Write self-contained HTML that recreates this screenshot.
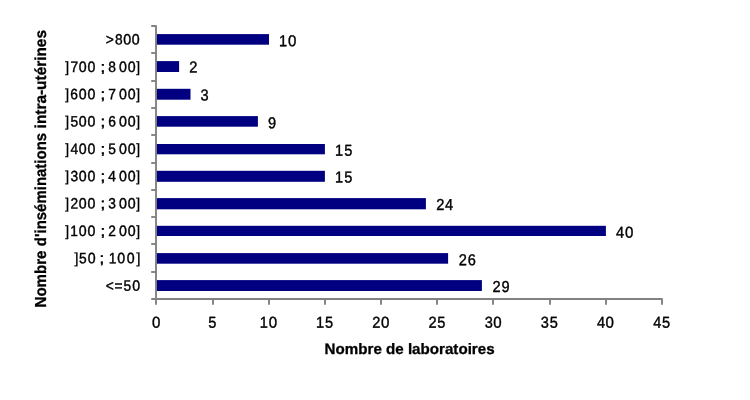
<!DOCTYPE html>
<html><head><meta charset="utf-8"><title>Chart</title>
<style>
html,body{margin:0;padding:0;background:#fff;}
body{width:750px;height:400px;overflow:hidden;font-family:"Liberation Sans",sans-serif;}
svg{display:block;will-change:transform;}
text{font-family:"Liberation Sans",sans-serif;fill:#000;text-rendering:geometricPrecision;}
g text{stroke:#000;stroke-width:0.4px;}
.ttl{font-size:15.1px;font-weight:bold;stroke:#000;stroke-width:0.3px;}
</style></head><body>
<svg width="750" height="400" viewBox="0 0 750 400">
<rect x="0" y="0" width="750" height="400" fill="#ffffff"/>
<rect x="156.00" y="34.10" width="113.00" height="10.60" fill="#000080"/>
<g>
<text transform="translate(109.70,44.57) rotate(0.05) scale(0.92,1)" x="-4.37" y="0" font-size="14.95">&gt;</text>
<text transform="translate(118.70,44.57) rotate(0.05) scale(0.92,1)" x="-4.16" y="0" font-size="14.95">8</text>
<text transform="translate(127.10,44.57) rotate(0.05) scale(0.95,1)" x="-4.16" y="0" font-size="14.95">0</text>
<text transform="translate(135.80,44.57) rotate(0.05) scale(0.95,1)" x="-4.16" y="0" font-size="14.95">0</text>
</g>
<g>
<text transform="translate(283.20,46.20) rotate(0.05) scale(0.92,1)" x="-4.62" y="0" font-size="15.85">1</text>
<text transform="translate(292.20,46.20) rotate(0.05) scale(0.95,1)" x="-4.41" y="0" font-size="15.85">0</text>
</g>
<rect x="156.00" y="61.10" width="23.10" height="10.90" fill="#000080"/>
<g>
<text transform="translate(66.80,71.91) rotate(0.05) scale(0.92,1)" x="-1.61" y="0" font-size="14.95">]</text>
<text transform="translate(74.20,71.91) rotate(0.05) scale(0.92,1)" x="-4.16" y="0" font-size="14.95">7</text>
<text transform="translate(82.80,71.91) rotate(0.05) scale(0.95,1)" x="-4.16" y="0" font-size="14.95">0</text>
<text transform="translate(91.50,71.91) rotate(0.05) scale(0.95,1)" x="-4.16" y="0" font-size="14.95">0</text>
<text transform="translate(102.80,71.91) rotate(0.05) scale(1.25,1)" x="-2.08" y="0" font-size="14.95">;</text>
<text transform="translate(112.00,71.91) rotate(0.05) scale(0.92,1)" x="-4.16" y="0" font-size="14.95">8</text>
<text transform="translate(123.00,71.91) rotate(0.05) scale(0.95,1)" x="-4.16" y="0" font-size="14.95">0</text>
<text transform="translate(131.70,71.91) rotate(0.05) scale(0.95,1)" x="-4.16" y="0" font-size="14.95">0</text>
<text transform="translate(137.70,71.91) rotate(0.05) scale(0.92,1)" x="-1.61" y="0" font-size="14.95">]</text>
</g>
<g>
<text transform="translate(193.38,72.60) rotate(0.05) scale(0.92,1)" x="-4.41" y="0" font-size="15.85">2</text>
</g>
<rect x="156.00" y="88.80" width="34.50" height="10.90" fill="#000080"/>
<g>
<text transform="translate(66.80,99.25) rotate(0.05) scale(0.92,1)" x="-1.61" y="0" font-size="14.95">]</text>
<text transform="translate(74.20,99.25) rotate(0.05) scale(0.92,1)" x="-4.21" y="0" font-size="14.95">6</text>
<text transform="translate(82.80,99.25) rotate(0.05) scale(0.95,1)" x="-4.16" y="0" font-size="14.95">0</text>
<text transform="translate(91.50,99.25) rotate(0.05) scale(0.95,1)" x="-4.16" y="0" font-size="14.95">0</text>
<text transform="translate(102.80,99.25) rotate(0.05) scale(1.25,1)" x="-2.08" y="0" font-size="14.95">;</text>
<text transform="translate(112.00,99.25) rotate(0.05) scale(0.92,1)" x="-4.16" y="0" font-size="14.95">7</text>
<text transform="translate(123.00,99.25) rotate(0.05) scale(0.95,1)" x="-4.16" y="0" font-size="14.95">0</text>
<text transform="translate(131.70,99.25) rotate(0.05) scale(0.95,1)" x="-4.16" y="0" font-size="14.95">0</text>
<text transform="translate(137.70,99.25) rotate(0.05) scale(0.92,1)" x="-1.61" y="0" font-size="14.95">]</text>
</g>
<g>
<text transform="translate(204.52,100.60) rotate(0.05) scale(0.92,1)" x="-4.36" y="0" font-size="15.85">3</text>
</g>
<rect x="156.00" y="116.10" width="101.90" height="10.60" fill="#000080"/>
<g>
<text transform="translate(66.80,126.59) rotate(0.05) scale(0.92,1)" x="-1.61" y="0" font-size="14.95">]</text>
<text transform="translate(74.20,126.59) rotate(0.05) scale(0.92,1)" x="-4.14" y="0" font-size="14.95">5</text>
<text transform="translate(82.80,126.59) rotate(0.05) scale(0.95,1)" x="-4.16" y="0" font-size="14.95">0</text>
<text transform="translate(91.50,126.59) rotate(0.05) scale(0.95,1)" x="-4.16" y="0" font-size="14.95">0</text>
<text transform="translate(102.80,126.59) rotate(0.05) scale(1.25,1)" x="-2.08" y="0" font-size="14.95">;</text>
<text transform="translate(112.00,126.59) rotate(0.05) scale(0.92,1)" x="-4.21" y="0" font-size="14.95">6</text>
<text transform="translate(123.00,126.59) rotate(0.05) scale(0.95,1)" x="-4.16" y="0" font-size="14.95">0</text>
<text transform="translate(131.70,126.59) rotate(0.05) scale(0.95,1)" x="-4.16" y="0" font-size="14.95">0</text>
<text transform="translate(137.70,126.59) rotate(0.05) scale(0.92,1)" x="-1.61" y="0" font-size="14.95">]</text>
</g>
<g>
<text transform="translate(271.96,128.20) rotate(0.05) scale(0.92,1)" x="-4.41" y="0" font-size="15.85">9</text>
</g>
<rect x="156.00" y="144.00" width="168.90" height="10.30" fill="#000080"/>
<g>
<text transform="translate(66.80,153.93) rotate(0.05) scale(0.92,1)" x="-1.61" y="0" font-size="14.95">]</text>
<text transform="translate(74.20,153.93) rotate(0.05) scale(0.92,1)" x="-4.11" y="0" font-size="14.95">4</text>
<text transform="translate(82.80,153.93) rotate(0.05) scale(0.95,1)" x="-4.16" y="0" font-size="14.95">0</text>
<text transform="translate(91.50,153.93) rotate(0.05) scale(0.95,1)" x="-4.16" y="0" font-size="14.95">0</text>
<text transform="translate(102.80,153.93) rotate(0.05) scale(1.25,1)" x="-2.08" y="0" font-size="14.95">;</text>
<text transform="translate(112.00,153.93) rotate(0.05) scale(0.92,1)" x="-4.14" y="0" font-size="14.95">5</text>
<text transform="translate(123.00,153.93) rotate(0.05) scale(0.95,1)" x="-4.16" y="0" font-size="14.95">0</text>
<text transform="translate(131.70,153.93) rotate(0.05) scale(0.95,1)" x="-4.16" y="0" font-size="14.95">0</text>
<text transform="translate(137.70,153.93) rotate(0.05) scale(0.92,1)" x="-1.61" y="0" font-size="14.95">]</text>
</g>
<g>
<text transform="translate(339.25,155.70) rotate(0.05) scale(0.92,1)" x="-4.62" y="0" font-size="15.85">1</text>
<text transform="translate(348.40,155.70) rotate(0.05) scale(0.92,1)" x="-4.39" y="0" font-size="15.85">5</text>
</g>
<rect x="156.00" y="170.80" width="168.90" height="11.00" fill="#000080"/>
<g>
<text transform="translate(66.80,181.27) rotate(0.05) scale(0.92,1)" x="-1.61" y="0" font-size="14.95">]</text>
<text transform="translate(74.20,181.27) rotate(0.05) scale(0.92,1)" x="-4.11" y="0" font-size="14.95">3</text>
<text transform="translate(82.80,181.27) rotate(0.05) scale(0.95,1)" x="-4.16" y="0" font-size="14.95">0</text>
<text transform="translate(91.50,181.27) rotate(0.05) scale(0.95,1)" x="-4.16" y="0" font-size="14.95">0</text>
<text transform="translate(102.80,181.27) rotate(0.05) scale(1.25,1)" x="-2.08" y="0" font-size="14.95">;</text>
<text transform="translate(112.00,181.27) rotate(0.05) scale(0.92,1)" x="-4.11" y="0" font-size="14.95">4</text>
<text transform="translate(123.00,181.27) rotate(0.05) scale(0.95,1)" x="-4.16" y="0" font-size="14.95">0</text>
<text transform="translate(131.70,181.27) rotate(0.05) scale(0.95,1)" x="-4.16" y="0" font-size="14.95">0</text>
<text transform="translate(137.70,181.27) rotate(0.05) scale(0.92,1)" x="-1.61" y="0" font-size="14.95">]</text>
</g>
<g>
<text transform="translate(339.25,182.50) rotate(0.05) scale(0.92,1)" x="-4.62" y="0" font-size="15.85">1</text>
<text transform="translate(348.40,182.50) rotate(0.05) scale(0.92,1)" x="-4.39" y="0" font-size="15.85">5</text>
</g>
<rect x="156.00" y="198.10" width="269.90" height="11.20" fill="#000080"/>
<g>
<text transform="translate(66.80,208.61) rotate(0.05) scale(0.92,1)" x="-1.61" y="0" font-size="14.95">]</text>
<text transform="translate(74.20,208.61) rotate(0.05) scale(0.92,1)" x="-4.16" y="0" font-size="14.95">2</text>
<text transform="translate(82.80,208.61) rotate(0.05) scale(0.95,1)" x="-4.16" y="0" font-size="14.95">0</text>
<text transform="translate(91.50,208.61) rotate(0.05) scale(0.95,1)" x="-4.16" y="0" font-size="14.95">0</text>
<text transform="translate(102.80,208.61) rotate(0.05) scale(1.25,1)" x="-2.08" y="0" font-size="14.95">;</text>
<text transform="translate(112.00,208.61) rotate(0.05) scale(0.92,1)" x="-4.11" y="0" font-size="14.95">3</text>
<text transform="translate(123.00,208.61) rotate(0.05) scale(0.95,1)" x="-4.16" y="0" font-size="14.95">0</text>
<text transform="translate(131.70,208.61) rotate(0.05) scale(0.95,1)" x="-4.16" y="0" font-size="14.95">0</text>
<text transform="translate(137.70,208.61) rotate(0.05) scale(0.92,1)" x="-1.61" y="0" font-size="14.95">]</text>
</g>
<g>
<text transform="translate(440.36,209.90) rotate(0.05) scale(0.92,1)" x="-4.41" y="0" font-size="15.85">2</text>
<text transform="translate(449.06,209.90) rotate(0.05) scale(0.92,1)" x="-4.36" y="0" font-size="15.85">4</text>
</g>
<rect x="156.00" y="225.80" width="449.90" height="10.20" fill="#000080"/>
<g>
<text transform="translate(66.80,235.95) rotate(0.05) scale(0.92,1)" x="-1.61" y="0" font-size="14.95">]</text>
<text transform="translate(74.20,235.95) rotate(0.05) scale(0.92,1)" x="-4.36" y="0" font-size="14.95">1</text>
<text transform="translate(82.80,235.95) rotate(0.05) scale(0.95,1)" x="-4.16" y="0" font-size="14.95">0</text>
<text transform="translate(91.50,235.95) rotate(0.05) scale(0.95,1)" x="-4.16" y="0" font-size="14.95">0</text>
<text transform="translate(102.80,235.95) rotate(0.05) scale(1.25,1)" x="-2.08" y="0" font-size="14.95">;</text>
<text transform="translate(112.00,235.95) rotate(0.05) scale(0.92,1)" x="-4.16" y="0" font-size="14.95">2</text>
<text transform="translate(123.00,235.95) rotate(0.05) scale(0.95,1)" x="-4.16" y="0" font-size="14.95">0</text>
<text transform="translate(131.70,235.95) rotate(0.05) scale(0.95,1)" x="-4.16" y="0" font-size="14.95">0</text>
<text transform="translate(137.70,235.95) rotate(0.05) scale(0.92,1)" x="-1.61" y="0" font-size="14.95">]</text>
</g>
<g>
<text transform="translate(619.95,237.70) rotate(0.05) scale(0.92,1)" x="-4.36" y="0" font-size="15.85">4</text>
<text transform="translate(629.25,237.70) rotate(0.05) scale(0.95,1)" x="-4.41" y="0" font-size="15.85">0</text>
</g>
<rect x="156.00" y="253.10" width="292.10" height="10.60" fill="#000080"/>
<g>
<text transform="translate(76.00,263.29) rotate(0.05) scale(0.92,1)" x="-1.61" y="0" font-size="14.95">]</text>
<text transform="translate(82.90,263.29) rotate(0.05) scale(0.92,1)" x="-4.14" y="0" font-size="14.95">5</text>
<text transform="translate(91.70,263.29) rotate(0.05) scale(0.95,1)" x="-4.16" y="0" font-size="14.95">0</text>
<text transform="translate(101.80,263.29) rotate(0.05) scale(1.25,1)" x="-2.08" y="0" font-size="14.95">;</text>
<text transform="translate(112.70,263.29) rotate(0.05) scale(0.92,1)" x="-4.36" y="0" font-size="14.95">1</text>
<text transform="translate(121.30,263.29) rotate(0.05) scale(0.95,1)" x="-4.16" y="0" font-size="14.95">0</text>
<text transform="translate(130.70,263.29) rotate(0.05) scale(0.95,1)" x="-4.16" y="0" font-size="14.95">0</text>
<text transform="translate(138.10,263.29) rotate(0.05) scale(0.92,1)" x="-1.61" y="0" font-size="14.95">]</text>
</g>
<g>
<text transform="translate(462.74,265.20) rotate(0.05) scale(0.92,1)" x="-4.41" y="0" font-size="15.85">2</text>
<text transform="translate(471.89,265.20) rotate(0.05) scale(0.92,1)" x="-4.46" y="0" font-size="15.85">6</text>
</g>
<rect x="156.00" y="280.10" width="325.90" height="10.90" fill="#000080"/>
<g>
<text transform="translate(109.70,290.63) rotate(0.05) scale(0.92,1)" x="-4.37" y="0" font-size="14.95">&lt;</text>
<text transform="translate(118.60,290.63) rotate(0.05) scale(0.92,1)" x="-4.37" y="0" font-size="14.95">=</text>
<text transform="translate(127.30,290.63) rotate(0.05) scale(0.92,1)" x="-4.14" y="0" font-size="14.95">5</text>
<text transform="translate(136.10,290.63) rotate(0.05) scale(0.95,1)" x="-4.16" y="0" font-size="14.95">0</text>
</g>
<g>
<text transform="translate(496.56,291.90) rotate(0.05) scale(0.92,1)" x="-4.41" y="0" font-size="15.85">2</text>
<text transform="translate(505.66,291.90) rotate(0.05) scale(0.92,1)" x="-4.41" y="0" font-size="15.85">9</text>
</g>
<g stroke="#828282" stroke-width="1.9" fill="none" stroke-linejoin="round" stroke-linecap="butt">
<polyline points="151.2,26 156,26 156,304.8"/>
<polyline points="151.2,299 662,299 662,304.8"/>
<line x1="151.2" y1="53" x2="156" y2="53"/>
<line x1="151.2" y1="81" x2="156" y2="81"/>
<line x1="151.2" y1="108" x2="156" y2="108"/>
<line x1="151.2" y1="135" x2="156" y2="135"/>
<line x1="151.2" y1="163" x2="156" y2="163"/>
<line x1="151.2" y1="190" x2="156" y2="190"/>
<line x1="151.2" y1="217" x2="156" y2="217"/>
<line x1="151.2" y1="244" x2="156" y2="244"/>
<line x1="151.2" y1="272" x2="156" y2="272"/>
<line x1="213" y1="299" x2="213" y2="304.8"/>
<line x1="269" y1="299" x2="269" y2="304.8"/>
<line x1="325" y1="299" x2="325" y2="304.8"/>
<line x1="381" y1="299" x2="381" y2="304.8"/>
<line x1="437" y1="299" x2="437" y2="304.8"/>
<line x1="493" y1="299" x2="493" y2="304.8"/>
<line x1="550" y1="299" x2="550" y2="304.8"/>
<line x1="606" y1="299" x2="606" y2="304.8"/>
</g>
<g>
<text transform="translate(156.20,327.70) rotate(0.05) scale(0.95,1)" x="-4.41" y="0" font-size="15.85">0</text>
</g>
<g>
<text transform="translate(212.35,327.70) rotate(0.05) scale(0.92,1)" x="-4.39" y="0" font-size="15.85">5</text>
</g>
<g>
<text transform="translate(264.10,327.70) rotate(0.05) scale(0.92,1)" x="-4.62" y="0" font-size="15.85">1</text>
<text transform="translate(272.90,327.70) rotate(0.05) scale(0.95,1)" x="-4.41" y="0" font-size="15.85">0</text>
</g>
<g>
<text transform="translate(320.25,327.70) rotate(0.05) scale(0.92,1)" x="-4.62" y="0" font-size="15.85">1</text>
<text transform="translate(329.05,327.70) rotate(0.05) scale(0.92,1)" x="-4.39" y="0" font-size="15.85">5</text>
</g>
<g>
<text transform="translate(376.40,327.70) rotate(0.05) scale(0.92,1)" x="-4.41" y="0" font-size="15.85">2</text>
<text transform="translate(385.20,327.70) rotate(0.05) scale(0.95,1)" x="-4.41" y="0" font-size="15.85">0</text>
</g>
<g>
<text transform="translate(432.55,327.70) rotate(0.05) scale(0.92,1)" x="-4.41" y="0" font-size="15.85">2</text>
<text transform="translate(441.35,327.70) rotate(0.05) scale(0.92,1)" x="-4.39" y="0" font-size="15.85">5</text>
</g>
<g>
<text transform="translate(488.70,327.70) rotate(0.05) scale(0.92,1)" x="-4.36" y="0" font-size="15.85">3</text>
<text transform="translate(497.50,327.70) rotate(0.05) scale(0.95,1)" x="-4.41" y="0" font-size="15.85">0</text>
</g>
<g>
<text transform="translate(544.85,327.70) rotate(0.05) scale(0.92,1)" x="-4.36" y="0" font-size="15.85">3</text>
<text transform="translate(553.65,327.70) rotate(0.05) scale(0.92,1)" x="-4.39" y="0" font-size="15.85">5</text>
</g>
<g>
<text transform="translate(601.00,327.70) rotate(0.05) scale(0.92,1)" x="-4.36" y="0" font-size="15.85">4</text>
<text transform="translate(609.80,327.70) rotate(0.05) scale(0.95,1)" x="-4.41" y="0" font-size="15.85">0</text>
</g>
<g>
<text transform="translate(657.15,327.70) rotate(0.05) scale(0.92,1)" x="-4.36" y="0" font-size="15.85">4</text>
<text transform="translate(665.95,327.70) rotate(0.05) scale(0.92,1)" x="-4.39" y="0" font-size="15.85">5</text>
</g>
<text class="ttl" x="409.6" y="353.9" text-anchor="middle" textLength="170" lengthAdjust="spacingAndGlyphs">Nombre de laboratoires</text>
<text class="ttl" style="font-size:15.9px" transform="translate(46.3,307.5) rotate(-90)" textLength="57.0" lengthAdjust="spacingAndGlyphs">Nombre</text>
<text class="ttl" style="font-size:15.9px" transform="translate(46.3,246.2) rotate(-90)" textLength="113.3" lengthAdjust="spacingAndGlyphs">d'inséminations</text>
<text class="ttl" style="font-size:15.9px" transform="translate(46.3,128.4) rotate(-90)" textLength="98.4" lengthAdjust="spacingAndGlyphs">intra-utérines</text>
</svg></body></html>
